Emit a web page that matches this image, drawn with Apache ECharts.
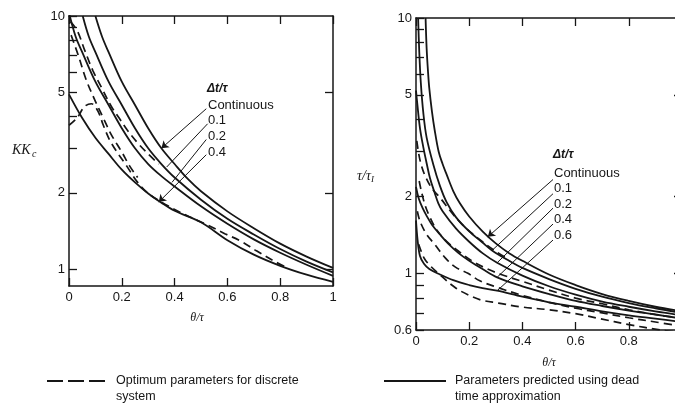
<!DOCTYPE html>
<html>
<head>
<meta charset="utf-8">
<script src="https://cdn.jsdelivr.net/npm/echarts@6/dist/echarts.min.js"></script>
<style>
html,body{margin:0;padding:0;background:#fff;}
#c{width:675px;height:410px;}
</style>
</head>
<body>
<div id="c"></div>
<script>
// ---------- tick labels ----------
const xTicks = [0, 0.2, 0.4, 0.6, 0.8, 1];
const yLabelsLeft = [1, 2, 5, 10];
const yTicksLeft = [1, 2, 3, 4, 5, 6, 7, 8, 9, 10];
const yLabelsRight = [0.6, 1, 2, 5, 10];
const yTicksRight = [0.6, 0.7, 0.8, 0.9, 1, 2, 3, 4, 5, 6, 7, 8, 9, 10];
const deltaLabelsLeft = ['Continuous', '0.1', '0.2', '0.4'];
const deltaLabelsRight = ['Continuous', '0.1', '0.2', '0.4', '0.6'];

// ---------- left panel: KKc vs theta/tau ----------
// solid: parameters predicted using dead time approximation
const kcContX = [0.1, 0.125, 0.15, 0.2, 0.25, 0.3, 0.35, 0.4, 0.45, 0.5, 0.6, 0.7, 0.8, 0.9, 1.0];
const kcContY = [10, 8.3, 7.2, 5.5, 4.45, 3.6, 3.0, 2.6, 2.27, 2.03, 1.69, 1.45, 1.26, 1.12, 1.01];
const kc01X = [0.052, 0.075, 0.1, 0.15, 0.2, 0.25, 0.3, 0.35, 0.4, 0.5, 0.6, 0.7, 0.8, 0.9, 1.0];
const kc01Y = [10, 8.3, 7.2, 5.5, 4.45, 3.6, 3.0, 2.6, 2.3, 1.88, 1.58, 1.37, 1.2, 1.07, 0.97];
const kc02X = [0, 0.025, 0.05, 0.1, 0.15, 0.2, 0.25, 0.3, 0.35, 0.4, 0.5, 0.6, 0.7, 0.8, 0.9, 1.0];
const kc02Y = [10.3, 8.3, 7.2, 5.5, 4.45, 3.6, 3.0, 2.6, 2.33, 2.12, 1.77, 1.51, 1.31, 1.16, 1.04, 0.94];
const kc04X = [0, 0.05, 0.1, 0.15, 0.2, 0.25, 0.3, 0.35, 0.4, 0.5, 0.6, 0.7, 0.8, 0.9, 1.0];
const kc04Y = [4.9, 3.95, 3.3, 2.85, 2.47, 2.2, 1.99, 1.83, 1.7, 1.53, 1.3, 1.14, 1.03, 0.95, 0.89];
// dashed: optimum parameters for discrete system
const kcOpt01X = [0.005, 0.03, 0.06, 0.09, 0.128, 0.16, 0.19, 0.22, 0.26, 0.3, 0.34];
const kcOpt01Y = [9.5, 8.8, 7.3, 6.1, 5.1, 4.4, 3.95, 3.55, 3.15, 2.85, 2.6];
const kcOpt02X = [0.008, 0.035, 0.065, 0.1, 0.13, 0.16, 0.2, 0.23, 0.26];
const kcOpt02Y = [8.4, 7.0, 5.6, 4.6, 3.95, 3.4, 2.9, 2.55, 2.3];
const kcOpt04X = [0, 0.03, 0.06, 0.085, 0.11, 0.13, 0.16, 0.22, 0.26, 0.3, 0.35, 0.4, 0.45, 0.52, 0.59, 0.65, 0.71, 0.78, 0.82];
const kcOpt04Y = [3.7, 3.95, 4.4, 4.5, 4.2, 3.7, 3.15, 2.54, 2.2, 1.99, 1.84, 1.72, 1.62, 1.5, 1.38, 1.29, 1.18, 1.07, 1.02];

// ---------- right panel: tau/tauI vs theta/tau ----------
const tiContX = [0.036, 0.04, 0.045, 0.05, 0.06, 0.07, 0.085, 0.1, 0.115, 0.14, 0.165, 0.2, 0.25, 0.3, 0.35, 0.4, 0.5, 0.6, 0.7, 0.8, 0.9, 1.0];
const tiContY = [10, 7.6, 6.2, 5.3, 4.3, 3.65, 3.0, 2.68, 2.44, 2.1, 1.88, 1.67, 1.46, 1.31, 1.2, 1.12, 0.99, 0.9, 0.83, 0.78, 0.74, 0.71];
const ti01X = [0.008, 0.012, 0.018, 0.028, 0.04, 0.065, 0.09, 0.115, 0.15, 0.2, 0.25, 0.286, 0.35, 0.4, 0.5, 0.6, 0.7, 0.8, 0.9, 1.0];
const ti01Y = [10, 7.5, 5.6, 4.2, 3.4, 2.67, 2.2, 1.9, 1.66, 1.46, 1.32, 1.23, 1.12, 1.05, 0.95, 0.87, 0.81, 0.765, 0.73, 0.7];
const ti02X = [0, 0.005, 0.015, 0.028, 0.04, 0.053, 0.07, 0.084, 0.1, 0.15, 0.2, 0.25, 0.305, 0.4, 0.5, 0.6, 0.7, 0.8, 0.9, 1.0];
const ti02Y = [5.2, 4.6, 3.7, 3.1, 2.7, 2.35, 2.07, 1.88, 1.75, 1.5, 1.33, 1.2, 1.1, 0.98, 0.89, 0.825, 0.775, 0.74, 0.71, 0.685];
const ti04X = [0, 0.01, 0.025, 0.04, 0.06, 0.09, 0.12, 0.16, 0.2, 0.25, 0.305, 0.4, 0.5, 0.6, 0.7, 0.8, 0.9, 1.0];
const ti04Y = [2.18, 1.97, 1.8, 1.68, 1.55, 1.42, 1.31, 1.2, 1.12, 1.04, 0.965, 0.89, 0.83, 0.78, 0.745, 0.715, 0.69, 0.665];
const ti06X = [0, 0.006, 0.015, 0.03, 0.05, 0.09, 0.14, 0.2, 0.25, 0.305, 0.4, 0.5, 0.6, 0.7, 0.8, 0.9, 1.0];
const ti06Y = [1.61, 1.35, 1.17, 1.09, 1.04, 0.99, 0.94, 0.9, 0.875, 0.855, 0.81, 0.77, 0.74, 0.71, 0.685, 0.665, 0.645];
const tiOpt01X = [0.003, 0.01, 0.02, 0.035, 0.06, 0.09, 0.13, 0.18, 0.25, 0.3, 0.35];
const tiOpt01Y = [3.3, 2.95, 2.65, 2.4, 2.15, 1.98, 1.75, 1.53, 1.33, 1.22, 1.13];
const tiOpt02X = [0.012, 0.02, 0.034, 0.05, 0.078, 0.12, 0.16, 0.21, 0.26, 0.32, 0.4, 0.5, 0.6, 0.7, 0.8, 0.9, 0.98];
const tiOpt02Y = [2.3, 2.1, 1.85, 1.68, 1.48, 1.32, 1.22, 1.12, 1.05, 0.99, 0.93, 0.86, 0.8, 0.76, 0.72, 0.69, 0.67];
const tiOpt04X = [0.005, 0.015, 0.04, 0.07, 0.11, 0.147, 0.195, 0.24, 0.3, 0.4, 0.5, 0.6, 0.7, 0.8, 0.9, 0.98];
const tiOpt04Y = [1.75, 1.6, 1.42, 1.3, 1.15, 1.06, 1.0, 0.935, 0.885, 0.82, 0.77, 0.73, 0.7, 0.67, 0.645, 0.625];
const tiOpt06X = [0.01, 0.03, 0.05, 0.084, 0.147, 0.2, 0.247, 0.31, 0.39, 0.5, 0.6, 0.69, 0.8, 0.92, 0.98];
const tiOpt06Y = [1.3, 1.15, 1.08, 1.0, 0.88, 0.82, 0.785, 0.765, 0.74, 0.72, 0.695, 0.665, 0.63, 0.6, 0.59];

// ---------- helpers ----------
const INK = '#161616';
const SANS = '"Liberation Sans", Arial, sans-serif';
const SERIF = '"Liberation Serif", "DejaVu Serif", serif';

function pairs(xs, ys) { return xs.map((x, i) => [x, ys[i]]); }
function curve(xs, ys, gi, dashed) {
  return {
    type: 'line', xAxisIndex: gi * 2, yAxisIndex: gi * 2,
    data: pairs(xs, ys), showSymbol: false, symbol: 'none',
    smooth: 0.35, clip: true, silent: true,
    lineStyle: { color: INK, width: dashed ? 1.7 : 1.8, type: dashed ? [8, 5] : 'solid' }
  };
}
function leaders(gi, list) {
  return {
    type: 'line', xAxisIndex: gi * 2, yAxisIndex: gi * 2, data: [], silent: true,
    markLine: {
      silent: true, animation: false, symbolSize: 7,
      label: { show: false },
      lineStyle: { color: INK, width: 1, type: 'solid' },
      data: list.map(l => [
        { coord: l[0], symbol: 'none' },
        { coord: l[1], symbol: l[2] ? 'arrow' : 'none' }
      ])
    }
  };
}
function xAx(gi, pos, showLabel) {
  return {
    type: 'value', gridIndex: gi, position: pos, min: 0, max: 1, interval: 0.2,
    axisLine: { show: true, onZero: false, lineStyle: { color: INK, width: 1.5 } },
    axisTick: { show: true, inside: true, length: 8, lineStyle: { color: INK, width: 1.3 } },
    axisLabel: {
      show: showLabel, color: INK, fontFamily: SANS, fontSize: 13, margin: 5,
      formatter: v => String(Math.round(v * 10) / 10)
    },
    splitLine: { show: false }
  };
}
function yAx(gi, pos, min, labels, ticks, showLabel) {
  return {
    type: 'log', logBase: 10, gridIndex: gi, position: pos, min: min, max: 10,
    axisLine: { show: true, onZero: false, lineStyle: { color: INK, width: 1.5 } },
    axisTick: { show: true, inside: true, length: 8, customValues: ticks, lineStyle: { color: INK, width: 1.3 } },
    axisLabel: {
      show: showLabel, customValues: labels, color: INK, fontFamily: SANS, fontSize: 13, margin: 4,
      formatter: v => String(+(+v).toPrecision(3))
    },
    minorTick: { show: false },
    splitLine: { show: false }
  };
}

const chart = echarts.init(document.getElementById('c'), null, { renderer: 'canvas' });

const graphicTexts = [];
function txt(x, y, text, font, align) {
  graphicTexts.push({
    type: 'text', x: x, y: y, silent: true,
    style: { text: text, font: font, fill: INK, align: align || 'left', verticalAlign: 'middle' }
  });
}
// axis titles
txt(12, 150, 'KK', 'italic 14px ' + SERIF);
txt(32, 154, 'c', 'italic 10px ' + SERIF);
txt(357, 176, 'τ/τ', 'italic 14px ' + SERIF);
txt(371, 180, 'I', 'italic 9px ' + SERIF);
txt(197, 318, 'θ/τ', 'italic 12px ' + SERIF, 'center');
txt(549, 363, 'θ/τ', 'italic 12px ' + SERIF, 'center');
// annotation labels (left)
txt(207, 89, 'Δt/τ', 'italic bold 12px ' + SANS);
const leftLabelY = [105, 120, 136, 152];
deltaLabelsLeft.forEach((s, i) => txt(208, leftLabelY[i], s, '13px ' + SANS));
// annotation labels (right)
txt(553, 155, 'Δt/τ', 'italic bold 12px ' + SANS);
const rightLabelY = [173, 188, 204, 219, 235];
deltaLabelsRight.forEach((s, i) => txt(554, rightLabelY[i], s, '13px ' + SANS));
// legend
txt(116, 381, 'Optimum parameters for discrete', '12.5px ' + SANS);
txt(116, 397, 'system', '12.5px ' + SANS);
txt(455, 381, 'Parameters predicted using dead', '12.5px ' + SANS);
txt(455, 397, 'time approximation', '12.5px ' + SANS);

const legendLines = [
  { type: 'line', silent: true, shape: { x1: 47, y1: 381, x2: 105, y2: 381 },
    style: { stroke: INK, lineWidth: 2, lineDash: [16, 5] } },
  { type: 'line', silent: true, shape: { x1: 384, y1: 381, x2: 446, y2: 381 },
    style: { stroke: INK, lineWidth: 2 } }
];

const option = {
  backgroundColor: '#fff',
  animation: false,
  grid: [
    { left: 69, top: 16, width: 264, height: 270, outerBoundsMode: 'none', containLabel: false },
    { left: 416, top: 18, width: 266, height: 312, outerBoundsMode: 'none', containLabel: false }
  ],
  xAxis: [
    xAx(0, 'bottom', true), xAx(0, 'top', false),
    xAx(1, 'bottom', true), xAx(1, 'top', false)
  ],
  yAxis: [
    yAx(0, 'left', 0.857, yLabelsLeft, yTicksLeft, true),
    yAx(0, 'right', 0.857, [], [1, 2, 5], false),
    yAx(1, 'left', 0.6, yLabelsRight, yTicksRight, true),
    yAx(1, 'right', 0.6, [], [1, 2, 5], false)
  ],
  series: [
    curve(kcContX, kcContY, 0, false),
    curve(kc01X, kc01Y, 0, false),
    curve(kc02X, kc02Y, 0, false),
    curve(kc04X, kc04Y, 0, false),
    curve(kcOpt01X, kcOpt01Y, 0, true),
    curve(kcOpt02X, kcOpt02Y, 0, true),
    curve(kcOpt04X, kcOpt04Y, 0, true),
    curve(tiContX, tiContY, 1, false),
    curve(ti01X, ti01Y, 1, false),
    curve(ti02X, ti02Y, 1, false),
    curve(ti04X, ti04Y, 1, false),
    curve(ti06X, ti06Y, 1, false),
    curve(tiOpt01X, tiOpt01Y, 1, true),
    curve(tiOpt02X, tiOpt02Y, 1, true),
    curve(tiOpt04X, tiOpt04Y, 1, true),
    curve(tiOpt06X, tiOpt06Y, 1, true),
    leaders(0, [
      [[0.52, 4.3], [0.35, 3.0], true],
      [[0.525, 3.75], [0.37, 2.53], false],
      [[0.52, 3.25], [0.39, 2.2], false],
      [[0.52, 2.83], [0.34, 1.84], true]
    ]),
    leaders(1, [
      [[0.515, 2.33], [0.27, 1.39], true],
      [[0.515, 2.05], [0.286, 1.23], false],
      [[0.515, 1.8], [0.305, 1.1], false],
      [[0.515, 1.56], [0.305, 0.965], false],
      [[0.515, 1.35], [0.305, 0.855], false]
    ])
  ],
  graphic: graphicTexts.concat(legendLines)
};
chart.setOption(option);
</script>
</body>
</html>
